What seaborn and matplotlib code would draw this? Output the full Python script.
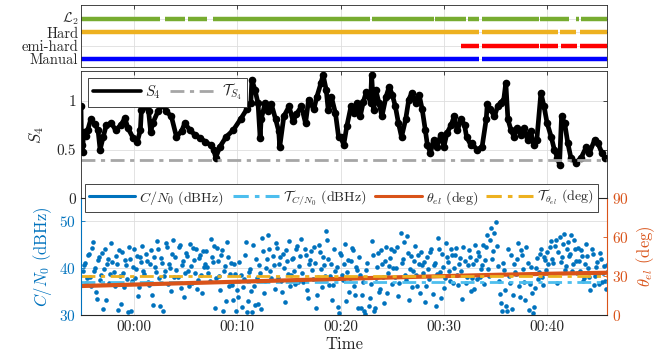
import numpy as np
import pandas as pd
import seaborn as sns
import matplotlib.pyplot as plt
from matplotlib.lines import Line2D
from matplotlib.transforms import ScaledTranslation

# ---- data (minutes from 00:00) ----
mode_names = ["Manual", "emi-hard", "Hard", r"$\mathcal{L}_2$"]
# available intervals for each mode (start, end)
seg_manual = [(-5.15, 33.4), (33.7, 45.8)]
seg_semi = [(31.7, 33.4), (33.7, 39.2), (39.3, 41.1), (41.3, 42.9), (43.2, 45.8)]
seg_hard = [(-5.15, 33.4), (33.7, 41.1), (41.2, 42.8), (43.2, 45.8)]
seg_l2 = [(-5.15, 2.5), (3.0, 4.9), (5.2, 7.1), (7.6, 22.8), (23.0, 29.0), (29.1, 32.1),
          (32.3, 33.4), (33.7, 39.2), (39.3, 42.1), (42.8, 43.1), (43.3, 45.8)]

t_s4 = [-5.15, -5.1, -5.0, -4.9, -4.7, -4.5, -4.2, -3.8, -3.5, -3.3, -3.0, -2.7, -2.2, -1.8, -1.3,
        -0.9, -0.6, -0.1, 0.3, 0.6, 0.7, 0.9, 1.2, 1.4, 1.6, 1.8, 2.3, 2.8, 3.1, 3.6, 4.1, 4.6,
        4.9, 5.4, 5.9, 6.4, 6.9, 7.4, 7.7, 7.9, 8.3, 8.9, 9.6, 10.3, 10.9, 11.3, 11.4, 11.7, 12.0,
        12.2, 12.3, 12.7, 13.0, 13.3, 13.7, 14.0, 14.1, 14.5, 15.0, 15.4, 15.7, 16.2, 16.6, 16.9,
        17.4, 17.7, 18.1, 18.3, 18.6, 18.8, 19.1, 19.5, 19.8, 20.0, 20.3, 20.6, 21.0, 21.3, 21.6,
        21.9, 22.2, 22.5, 22.9, 23.0, 23.2, 23.4, 23.7, 24.0, 24.4, 24.7, 25.0, 25.3, 25.6, 25.9,
        26.3, 26.6, 26.9, 27.3, 27.6, 27.9, 28.2, 28.4, 28.7, 29.0, 29.3, 29.7, 30.0, 30.3, 30.7,
        31.0, 31.3, 31.7, 32.0, 32.2, 32.6, 32.7, 33.2, 33.7, 34.1, 34.2, 34.5, 34.9, 35.2, 35.5,
        35.8, 36.0, 36.2, 36.5, 36.8, 37.1, 37.5, 37.8, 38.1, 38.4, 38.7, 39.0, 39.4, 39.7, 40.0,
        40.4, 40.7, 41.0, 41.2, 41.4, 41.7, 42.0, 42.3, 42.8, 43.3, 43.8, 44.1, 44.6, 44.9, 45.3,
        45.6]
s4_vals = [0.94, 0.55, 0.48, 0.68, 0.64, 0.70, 0.81, 0.76, 0.70, 0.50, 0.63, 0.75, 0.77, 0.70, 0.75,
           0.82, 0.72, 0.62, 0.58, 0.70, 0.90, 0.93, 1.01, 0.89, 0.68, 0.77, 0.89, 0.96, 0.89, 0.84,
           0.63, 0.69, 0.77, 0.70, 0.65, 0.62, 0.58, 0.55, 0.50, 0.42, 0.53, 0.63, 0.70, 0.81, 0.91,
           0.98, 1.21, 1.11, 0.97, 0.62, 0.81, 0.98, 0.89, 0.96, 0.81, 0.69, 0.53, 0.84, 0.94, 0.79,
           0.86, 0.94, 0.77, 1.01, 0.91, 1.04, 1.18, 1.26, 1.11, 0.90, 1.04, 0.87, 0.63, 0.63, 0.55,
           0.74, 0.94, 0.87, 0.98, 0.84, 0.99, 1.09, 0.98, 1.26, 0.90, 1.11, 0.98, 0.84, 1.04, 1.14,
           1.06, 0.94, 0.77, 0.63, 0.81, 1.01, 1.08, 0.98, 1.06, 0.91, 0.70, 0.55, 0.47, 0.60, 0.53,
           0.65, 0.53, 0.67, 0.75, 0.84, 0.70, 0.81, 0.75, 0.63, 0.55, 0.57, 0.50, 0.53, 0.81, 0.96,
           0.91, 0.84, 0.94, 0.98, 1.01, 1.18, 0.81, 0.70, 0.63, 0.72, 0.65, 0.72, 0.60, 0.69, 0.55,
           0.60, 1.08, 0.94, 0.77, 0.63, 0.50, 0.42, 0.35, 0.84, 0.77, 0.57, 0.42, 0.37, 0.42, 0.53,
           0.47, 0.60, 0.57, 0.47, 0.42]
s4_thr = 0.4

# C/N0 samples every 0.2 min, two interleaved runs (from -5.0 and from -4.9)
cn0_dt = 0.2
cn0_a = [
    39.5, 41.2, 37.8, 43.0, 36.2, 45.6, 40.1, 33.5, 42.3, 38.6, 31.2, 44.1, 40.8, 36.9, 45.3,
    39.2, 42.7, 31.0, 38.4, 43.5, 35.9, 40.6, 30.6, 41.9, 37.3, 44.2, 39.8, 34.1, 42.5, 44.8,
    38.7, 41.6, 36.4, 43.8, 32.2, 40.3, 45.8, 37.9, 42.1, 30.8, 39.5, 44.6, 41.0, 35.2, 46.0,
    42.4, 38.1, 44.9, 40.7, 33.9, 43.2, 39.4, 45.1, 36.8, 41.8, 44.0, 37.5, 42.9, 34.6, 40.2,
    43.6, 39.0, 46.2, 41.4, 31.5, 44.3, 38.3, 42.8, 30.9, 40.5, 45.5, 36.1, 41.1, 33.2, 38.8,
    35.4, 41.3, 31.8, 37.6, 45.7, 33.0, 39.9, 30.7, 36.3, 42.0, 32.4, 38.9, 46.4, 34.7, 40.0,
    47.0, 39.3, 42.6, 35.6, 44.4, 40.9, 37.2, 43.1, 32.8, 41.5, 45.9, 38.5, 42.2, 36.6, 44.7,
    40.4, 46.3, 37.0, 42.9, 33.7, 41.7, 39.6, 44.5, 31.4, 38.2, 43.4, 36.0, 40.7, 47.9, 42.0,
    38.4, 33.1, 44.0, 40.2, 30.5, 42.8, 37.4, 45.2, 39.1, 35.0, 41.6, 43.9, 34.3, 39.7, 42.4,
    31.6, 37.1, 30.3, 41.2, 33.6, 45.8, 30.9, 38.0, 43.3, 35.5, 40.8, 32.5, 44.5, 39.0, 42.1,
    36.7, 43.7, 40.1, 34.0, 47.6, 41.9, 38.6, 46.8, 33.3, 42.7, 39.4, 44.8, 36.2, 41.0, 43.5,
    38.9, 32.7, 42.5, 37.7, 44.1, 40.6, 31.9, 46.5, 39.2, 43.0, 35.8, 45.4, 41.3, 37.3, 42.8,
    40.0, 44.3, 36.5, 42.2, 33.4, 41.5, 38.1, 43.9, 35.1, 40.9, 45.0, 37.6, 42.6, 39.8, 44.9,
    41.7, 47.2, 38.3, 48.5, 43.6, 49.8, 40.4, 34.4, 30.8, 39.6, 32.0, 44.2, 36.9, 31.3, 41.0,
    38.7, 45.3, 33.8, 42.9, 37.0, 44.6, 31.1, 40.3, 30.4, 35.7, 42.1, 39.2, 44.0, 36.4, 41.8,
    43.4, 38.8, 45.9, 41.2, 44.8, 36.8, 46.7, 42.3, 47.3, 40.5, 45.6, 43.1, 39.3, 46.1, 41.6,
    44.4, 39.5, 42.7, 37.8, 45.2, 40.0, 35.3, 43.0, 38.4, 41.4, 36.6, 42.0, 39.0, 37.2, 40.7,
]
cn0_b = [
    40.6, 36.8, 42.9, 38.1, 44.4, 39.3, 35.0, 41.7, 37.4, 43.3, 39.9, 33.1, 42.0, 38.8, 41.4,
    36.3, 40.9, 43.9, 32.4, 39.0, 41.8, 37.6, 44.5, 30.9, 40.2, 38.0, 42.6, 36.0, 41.3, 39.4,
    43.1, 37.0, 40.8, 34.3, 42.4, 39.1, 44.2, 31.9, 41.1, 38.4, 45.4, 36.6, 40.0, 43.0, 38.2,
    39.7, 44.6, 35.8, 41.5, 38.9, 42.7, 36.1, 40.4, 44.3, 39.0, 35.5, 42.1, 38.6, 43.7, 41.0,
    40.3, 37.2, 42.5, 44.8, 38.0, 41.6, 35.3, 43.9, 39.5, 32.9, 42.3, 38.7, 36.4, 40.9, 30.8,
    33.9, 38.6, 36.0, 42.8, 30.6, 39.1, 35.2, 44.9, 32.1, 37.8, 40.7, 31.2, 43.6, 37.3, 41.9,
    44.2, 38.0, 40.6, 45.3, 37.9, 42.4, 34.9, 40.1, 43.8, 38.8, 36.2, 41.9, 39.4, 44.0, 37.1,
    42.7, 38.9, 44.2, 35.4, 40.8, 43.6, 37.7, 41.2, 34.2, 45.0, 39.8, 42.3, 38.3, 46.0, 36.5,
    41.0, 36.4, 39.4, 31.7, 43.2, 38.5, 40.9, 33.0, 41.8, 37.9, 44.3, 36.1, 40.3, 31.5, 38.6,
    34.2, 30.8, 39.6, 32.0, 36.6, 42.9, 31.5, 40.2, 35.0, 43.8, 38.1, 41.5, 34.6, 40.4, 44.0,
    40.0, 38.2, 44.6, 36.9, 41.2, 45.5, 37.4, 43.3, 39.8, 35.9, 41.6, 38.5, 42.9, 34.8, 40.7,
    41.4, 36.2, 39.9, 43.4, 34.5, 41.1, 38.8, 44.0, 33.6, 40.3, 37.9, 42.3, 39.4, 44.2, 36.8,
    42.9, 38.6, 41.0, 39.3, 44.5, 36.9, 40.7, 42.4, 38.0, 35.6, 41.8, 43.5, 38.2, 40.6, 36.7,
    44.6, 39.9, 46.1, 42.0, 47.5, 44.7, 37.3, 32.6, 41.1, 35.4, 30.9, 38.4, 42.8, 34.2, 39.1,
    41.9, 36.3, 43.8, 39.9, 33.2, 41.2, 36.7, 34.6, 31.8, 40.0, 37.6, 43.1, 38.1, 42.5, 39.7,
    40.9, 44.6, 42.0, 38.7, 46.0, 43.5, 41.4, 45.1, 39.7, 44.2, 42.6, 47.0, 40.8, 44.0, 38.9,
    41.5, 43.8, 37.3, 40.9, 42.6, 38.2, 44.1, 36.4, 40.2, 38.8, 43.2, 37.0, 40.4, 35.6, 39.3,
]
cn0_thr = 37

t_el = [-5.15, 0, 5, 10, 15, 20, 25, 30, 35, 40, 45.8]
el_vals = [22.3, 23.4, 24.5, 25.6, 26.7, 27.8, 28.9, 29.9, 30.9, 31.7, 32.5]
el_thr = 30

tick_min = [0, 10, 20, 30, 40]
tick_lbl = ["00:00", "00:10", "00:20", "00:30", "00:40"]

# ---- style ----
sns.set_style("white")
plt.rcParams["font.family"] = ["cmr10", "DejaVu Serif"]
plt.rcParams["mathtext.fontset"] = "cm"
plt.rcParams["axes.formatter.use_mathtext"] = True
plt.rcParams["font.size"] = 11
plt.rcParams["xtick.direction"] = "in"
plt.rcParams["ytick.direction"] = "in"

BLUE, LBLUE, ORANGE, YELLOW, GREEN = "#0072BD", "#4DBEEE", "#D95319", "#EDB120", "#77AC30"
AXC = "#262626"
GRIDC = "#dedede"
DD = (0, (5, 2, 1.5, 2))
XL = (-5.15, 45.8)

fig = plt.figure(figsize=(6.61, 3.64), dpi=100)
L, W = 81 / 661, (607 - 81) / 661


def box(y_top, y_bot):
    return [L, 1 - y_bot / 364, W, (y_bot - y_top) / 364]


def style(ax):
    for s in ax.spines.values():
        s.set_color(AXC)
        s.set_linewidth(0.6)
    ax.tick_params(colors=AXC, length=3, width=0.6, top=True, right=True)
    ax.set_xlim(*XL)
    ax.set_xticks(tick_min)
    ax.grid(True, color=GRIDC, lw=0.6)
    ax.set_axisbelow(True)


# top panel: modes
ax1 = fig.add_axes(box(5, 67))
style(ax1)
for lvl, segs, col in [(1, seg_manual, "#0000FF"), (2, seg_semi, "#FF0000"),
                       (3, seg_hard, YELLOW), (4, seg_l2, GREEN)]:
    for a, b in segs:
        sns.lineplot(x=[a, b], y=[lvl, lvl], ax=ax1, color=col, lw=3.2, solid_capstyle="butt")
ax1.set_ylim(0.4, 5.05)
ax1.set_yticks([1, 2, 3, 4])
ax1.set_yticklabels(mode_names)
ax1.tick_params(labelbottom=False, pad=2, labelsize=10.5)
lab_l2 = ax1.get_yticklabels()[3]
lab_l2.set_fontsize(10)
lab_l2.set_transform(lab_l2.get_transform() + ScaledTranslation(0, 1.5 / 72, fig.dpi_scale_trans))
ax1.set_xlabel("")

# middle panel: S4
ax2 = fig.add_axes(box(71, 199))
style(ax2)
sns.lineplot(x=t_s4, y=s4_vals, ax=ax2, color="black", lw=3.4, marker="o",
             markersize=5.5, markeredgewidth=0)
ax2.axhline(s4_thr, color="#A6A6A6", lw=2, ls=DD)
ax2.set_ylim(0, 1.3)
ax2.set_yticks([0, 0.5, 1])
ax2.set_yticklabels(["0", "0.5", "1"])
ax2.set_ylabel(r"$S_4$", fontsize=12, labelpad=8)
ax2.tick_params(labelbottom=False)
h2 = [Line2D([], [], color="black", lw=2.6),
      Line2D([], [], color="#A6A6A6", lw=2, ls=DD)]
leg2 = ax2.legend(h2, [r"$S_4$", r"$\mathcal{T}_{S_4}$"], loc="upper left", ncol=2,
                  bbox_to_anchor=(0.0, 1.005), fontsize=10.5, frameon=True, fancybox=False,
                  edgecolor=AXC, framealpha=1, handlelength=3.3, handletextpad=0.3,
                  columnspacing=0.6, borderpad=0.3)
leg2.get_frame().set_linewidth(0.6)

# bottom panel: C/N0 and elevation
ax3 = fig.add_axes(box(198, 315))
style(ax3)
ax3.tick_params(right=False)
cn0_t = [-5.0 + i * cn0_dt for i in range(len(cn0_a))] + \
        [-4.9 + i * cn0_dt for i in range(len(cn0_b))]
sns.scatterplot(x=cn0_t, y=cn0_a + cn0_b, ax=ax3, color=BLUE, s=11, linewidth=0)
ax3.axhline(cn0_thr, color=LBLUE, lw=2, ls=DD)
ax3.set_ylim(30, 55)
ax3.set_yticks([30, 40, 50])
ax3.tick_params(axis="y", colors=BLUE)
ax3.spines["left"].set_color(BLUE)
ax3.set_ylabel(r"$C/N_0$ (dBHz)", color=BLUE, fontsize=12, labelpad=4)
ax3.set_xticklabels(tick_lbl)
ax3.set_xlabel("Time", fontsize=12, labelpad=2)

ax4 = ax3.twinx()
sns.lineplot(x=t_el, y=el_vals, ax=ax4, color=ORANGE, lw=3)
ax4.axhline(el_thr, color=YELLOW, lw=2, ls=DD)
ax4.set_ylim(0, 90)
ax4.set_yticks([0, 30, 60, 90])
ax4.tick_params(axis="y", colors=ORANGE, direction="in", length=3, width=0.6)
ax4.spines["right"].set_color(ORANGE)
ax4.spines["left"].set_color(BLUE)
ax4.spines["top"].set_color(AXC)
ax4.spines["bottom"].set_color(AXC)
ax4.set_ylabel(r"$\theta_{el}$ (deg)", color=ORANGE, fontsize=12, labelpad=4)
ax4.set_xlim(*XL)

h4 = [Line2D([], [], color=BLUE, lw=2.2), Line2D([], [], color=LBLUE, lw=2.2, ls=DD),
      Line2D([], [], color=ORANGE, lw=2.2), Line2D([], [], color=YELLOW, lw=2.2, ls=DD)]
lab4 = [r"$C/N_0$ (dBHz)", r"$\mathcal{T}_{C/N_0}$ (dBHz)", r"$\theta_{el}$ (deg)",
        r"$\mathcal{T}_{\theta_{el}}$ (deg)"]
leg4 = ax4.legend(h4, lab4, loc="center", ncol=4, bbox_to_anchor=(0.495, 1.0), fontsize=10.1,
                  frameon=True, fancybox=False, edgecolor=AXC, framealpha=1, handlelength=3.3,
                  handletextpad=0.3, columnspacing=0.6, borderpad=0.3)
leg4.get_frame().set_linewidth(0.6)

fig.savefig("out.png", dpi=100)
